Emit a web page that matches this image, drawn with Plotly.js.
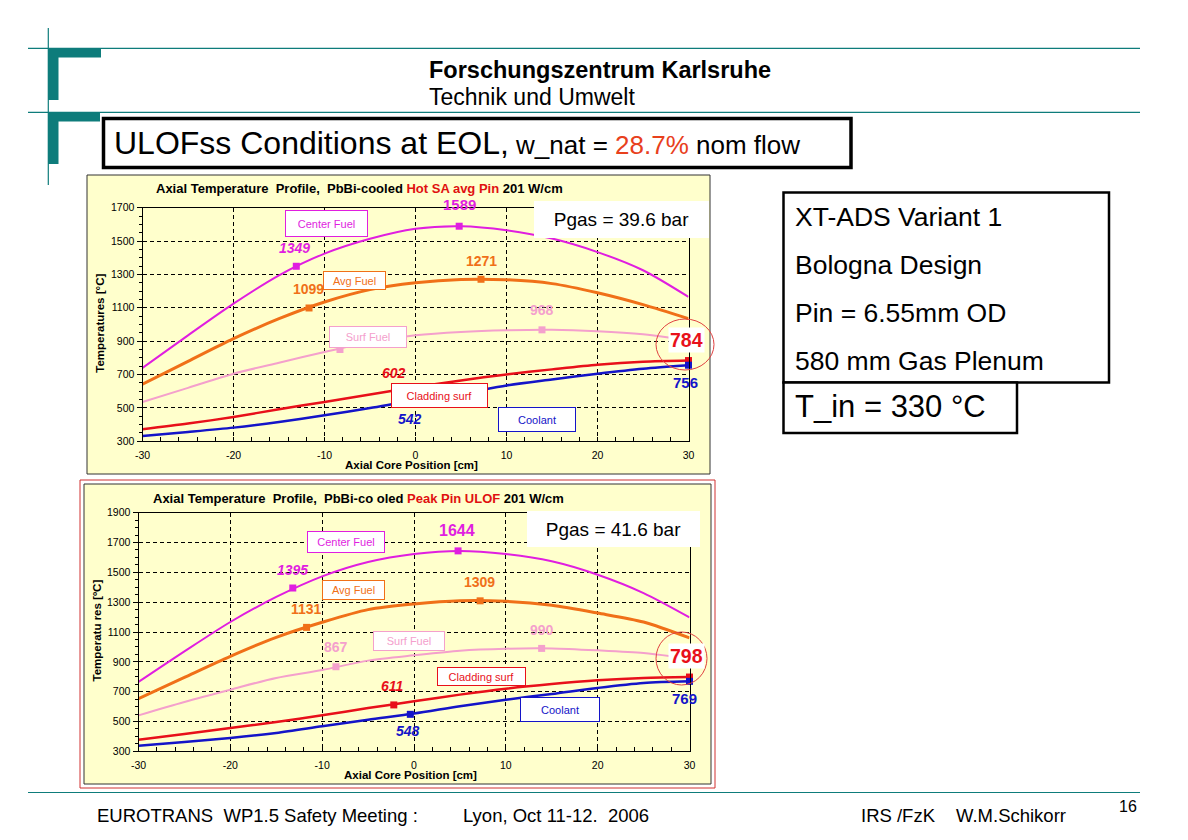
<!DOCTYPE html>
<html>
<head>
<meta charset="utf-8">
<script src="https://cdn.plot.ly/plotly-3.0.1.min.js"></script>
<style>html,body{margin:0;padding:0;background:#fff;}#chart{width:1188px;height:840px;}</style>
</head>
<body>
<div id="chart"></div>
<script>
// ---------------- DATA ----------------
const axialPos = [-30, -25, -20, -15, -10, -5, 0, 5, 10, 15, 20, 25, 30];
const surfPos  = [-30, -25, -20, -15, -10, -5, 0, 5, 10, 15, 20, 25, 28];
const seriesNames = ['Center Fuel', 'Avg Fuel', 'Surf Fuel', 'Cladding surf', 'Coolant'];
const xTickVals = [-30, -20, -10, 0, 10, 20, 30];
const xTickLabels = ['-30', '-20', '-10', '0', '10', '20', '30'];

// Top chart: Hot SA avg Pin
const hotCenter = [740, 935, 1125, 1295, 1425, 1514, 1574, 1589, 1565, 1515, 1434, 1325, 1165];
const hotAvg    = [642, 779, 915, 1035, 1135, 1209, 1250, 1270, 1268, 1245, 1190, 1119, 1035];
const hotSurf   = [536, 620, 705, 771, 835, 895, 935, 955, 965, 968, 959, 941, 921];
const hotClad   = [372, 406, 446, 492, 536, 580, 625, 665, 701, 731, 759, 777, 784];
const hotCool   = [332, 356, 382, 416, 456, 500, 546, 585, 635, 671, 705, 735, 756];
const hotMarkX  = [[-13.1, 4.8], [-11.7, 7.2], [-8.3, 13.9], [-2.3, 30], [-0.5, 30]];
const hotMarkY  = [[1349, 1589], [1099, 1271], [850, 968], [602, 784], [542, 756]];

// Bottom chart: Peak Pin ULOF
const peakCenter = [765, 970, 1167, 1335, 1473, 1569, 1623, 1644, 1623, 1574, 1484, 1361, 1198];
const peakAvg    = [653, 796, 937, 1064, 1165, 1250, 1288, 1310, 1306, 1279, 1227, 1167, 1060];
const peakSurf   = [541, 631, 713, 792, 845, 908, 944, 975, 988, 990, 977, 959, 937];
const peakClad   = [378, 416, 456, 497, 541, 590, 635, 680, 720, 751, 776, 792, 798];
const peakCool   = [338, 362, 389, 423, 468, 512, 553, 602, 646, 684, 725, 758, 769];
const peakMarkX  = [[-13.2, 4.8], [-11.7, 7.2], [-8.5, 13.9], [-2.2, 30], [-0.4, 30]];
const peakMarkY  = [[1395, 1644], [1131, 1309], [867, 990], [611, 798], [548, 769]];

// ---------------- STYLE ----------------
const W = 1188, H = 840;
const F = 'Liberation Sans, Arial, sans-serif';
const colors = ['#e01ee0', '#f07018', '#f4a0cc', '#e8101a', '#1414c8'];
const widths = [2, 3, 2, 2.5, 2.5];
const teal = '#0e7c7b';
const yellow = '#ffffcc';
const px = v => v / W;
const py = v => 1 - v / H;

const hotSeries = [hotCenter, hotAvg, hotSurf, hotClad, hotCool];
const peakSeries = [peakCenter, peakAvg, peakSurf, peakClad, peakCool];

const traces = [];
function addChart(series, markX, markY, xa, ya) {
  series.forEach((ys, i) => {
    traces.push({
      x: i === 2 ? surfPos : axialPos, y: ys, xaxis: xa, yaxis: ya,
      type: 'scatter', mode: 'lines', name: seriesNames[i],
      line: {color: colors[i], width: widths[i], shape: 'spline', smoothing: 0.8},
      hoverinfo: 'skip'
    });
  });
  markX.forEach((mx, i) => {
    traces.push({
      x: mx, y: markY[i], xaxis: xa, yaxis: ya, type: 'scatter', mode: 'markers',
      marker: {symbol: 'square', size: 7, color: colors[i]}, cliponaxis: false, hoverinfo: 'skip'
    });
  });
}
addChart(hotSeries, hotMarkX, hotMarkY, 'x', 'y');
addChart(peakSeries, peakMarkX, peakMarkY, 'x2', 'y2');

function xAxis(domain, anchor) {
  return {
    domain: domain, anchor: anchor, range: [-30, 30],
    tickmode: 'array', tickvals: xTickVals, ticktext: xTickLabels,
    showgrid: true, gridcolor: '#000', griddash: '4px,3px', gridwidth: 1,
    zeroline: false, showline: true, linecolor: '#000', linewidth: 1, mirror: true,
    ticks: 'inside', ticklen: 4, tickcolor: '#000', ticklabelstandoff: 4,
    tickfont: {family: F, size: 10.5, color: '#000'},
    minor: {tickmode: 'linear', tick0: 0, dtick: 2, ticks: 'inside', ticklen: 4, tickcolor: '#000', showgrid: false}
  };
}
function yAxis(domain, anchor, top) {
  return {
    domain: domain, anchor: anchor, range: [300, top], dtick: 200, tick0: 300,
    showgrid: true, gridcolor: '#000', griddash: '4px,3px', gridwidth: 1,
    zeroline: false, showline: true, linecolor: '#000', linewidth: 1, mirror: true,
    ticks: 'outside', ticklen: 5, tickcolor: '#000',
    tickfont: {family: F, size: 10.5, color: '#000'},
    minor: {dtick: 50, ticks: 'outside', ticklen: 3, tickcolor: '#000', showgrid: false}
  };
}

// ---------------- ANNOTATIONS ----------------
const ann = [];
function txt(x, y, text, size, color, extra) {
  ann.push(Object.assign({
    xref: 'paper', yref: 'paper', x: px(x), y: py(y), text: text, showarrow: false,
    font: {family: F, size: size, color: color || '#000'}, xanchor: 'center', yanchor: 'middle'
  }, extra || {}));
}
function box(x0, y0, x1, y1, text, color, size, textColor) {
  ann.push({
    xref: 'paper', yref: 'paper', x: px((x0 + x1) / 2), y: py((y0 + y1) / 2), text: text,
    showarrow: false, font: {family: F, size: size || 11, color: textColor || color},
    xanchor: 'center', yanchor: 'middle', bgcolor: '#fff', bordercolor: color,
    borderwidth: color === '#fff' ? 0 : 1, borderpad: 0, width: x1 - x0 - 2, height: y1 - y0 - 2
  });
}

// header
txt(427, 69.5, '<b>Forschungszentrum Karlsruhe</b>', 23.5, '#000', {xanchor: 'left'});
txt(427, 97, 'Technik und Umwelt', 23, '#000', {xanchor: 'left'});
txt(112, 143, 'ULOFss Conditions at EOL,<span style="font-size:26px"> w_nat = </span><span style="font-size:26px;color:#e8401c">28.7%</span><span style="font-size:26px"> nom flow</span>', 32, '#000', {xanchor: 'left'});

// right info boxes
txt(793, 216.7, 'XT-ADS Variant 1', 26.5, '#000', {xanchor: 'left'});
txt(793, 265, 'Bologna Design', 26.5, '#000', {xanchor: 'left'});
txt(793, 313, 'Pin = 6.55mm OD', 26.5, '#000', {xanchor: 'left'});
txt(793, 361, '580 mm Gas Plenum', 26.5, '#000', {xanchor: 'left'});
txt(793, 406, 'T_in = 330 °C', 31, '#000', {xanchor: 'left'});

// footer
txt(95, 815, 'EUROTRANS\u00a0 WP1.5 Safety Meeting :', 18.5, '#000', {xanchor: 'left'});
txt(461, 815, 'Lyon, Oct 11-12.\u00a0 2006', 18.5, '#000', {xanchor: 'left'});
txt(859, 815, 'IRS /FzK', 18.5, '#000', {xanchor: 'left'});
txt(954, 815, 'W.M.Schikorr', 18.5, '#000', {xanchor: 'left'});
txt(1128, 806, '16', 16, '#000');

// chart titles & axis titles
txt(154, 188.7, '<b>Axial Temperature\u00a0 Profile,\u00a0 PbBi-cooled <span style="color:#e01010">Hot SA avg Pin</span> 201 W/cm</b>', 13, '#000', {xanchor: 'left'});
txt(151, 498.7, '<b>Axial Temperature\u00a0 Profile,\u00a0 PbBi-co oled <span style="color:#e01010">Peak Pin ULOF</span> 201 W/cm</b>', 13, '#000', {xanchor: 'left'});
txt(412, 465, '<b>Axial Core Position [cm]</b>', 11.5, '#000');
txt(410, 774.7, '<b>Axial Core Position [cm]</b>', 11.5, '#000');
txt(100, 323.7, '<b>Temperatures [°C]</b>', 11.5, '#000', {textangle: -90});
txt(96.5, 631, '<b>Temperatu res [ºC]</b>', 11.5, '#000', {textangle: -90});

// Pgas boxes
box(533, 200, 710, 239, 'Pgas = 39.6 bar', '#fff', 19, '#000');
box(526, 510, 701, 548, 'Pgas = 41.6 bar', '#fff', 19, '#000');

// series label boxes (top)
box(285, 210, 368, 237, seriesNames[0], colors[0]);
box(323, 271, 386, 290, seriesNames[1], colors[1]);
box(329, 326, 407, 348, seriesNames[2], colors[2]);
box(391, 383, 488, 408, seriesNames[3], colors[3]);
box(498, 407, 576, 432, seriesNames[4], colors[4]);
// series label boxes (bottom)
box(307, 531, 385, 553, seriesNames[0], colors[0]);
box(322, 580, 385, 600, seriesNames[1], colors[1]);
box(373, 631, 445, 651, seriesNames[2], colors[2]);
box(437, 667, 526, 686, seriesNames[3], colors[3]);
box(520, 697, 600, 722, seriesNames[4], colors[4]);

// value labels (top)
const B = s => '<b>' + s + '</b>', BI = s => '<b><i>' + s + '</i></b>';
txt(294.6, 248, BI(hotMarkY[0][0]), 14, colors[0]);
txt(459.7, 204.3, B(hotMarkY[0][1]), 15, colors[0]);
txt(308, 288.7, B(hotMarkY[1][0]), 14, colors[1]);
txt(481.4, 261, B(hotMarkY[1][1]), 14, colors[1]);
txt(542, 310, B(hotMarkY[2][1]), 14, colors[2]);
txt(394, 373, BI(hotMarkY[3][0]), 14, colors[3]);
txt(410, 418.7, BI(hotMarkY[4][0]), 14, colors[4]);
txt(685, 382.7, B(hotMarkY[4][1]), 15, colors[4]);
txt(686.5, 340, B(hotMarkY[3][1]), 19.5, colors[3], {bgcolor: '#fff'});
// value labels (bottom)
txt(292.7, 569.7, BI(peakMarkY[0][0]), 14, colors[0]);
txt(457.3, 530.3, B(peakMarkY[0][1]), 16, colors[0]);
txt(306.3, 608.7, B(peakMarkY[1][0]), 14, colors[1]);
txt(479, 582, B(peakMarkY[1][1]), 14, colors[1]);
txt(336.3, 647.3, B(peakMarkY[2][0]), 14, colors[2]);
txt(541.6, 629.7, B(peakMarkY[2][1]), 14, colors[2]);
txt(392.7, 686.3, BI(peakMarkY[3][0]), 14, colors[3]);
txt(408.3, 731.3, BI(peakMarkY[4][0]), 14, colors[4]);
txt(684.7, 698.7, B(peakMarkY[4][1]), 15, colors[4]);
txt(686.8, 656.3, B(peakMarkY[3][1]), 19.5, colors[3], {bgcolor: '#fff'});

// ---------------- SHAPES ----------------
const shapes = [];
function rect(x0, y0, x1, y1, fill, lineColor, lw, layer) {
  shapes.push({type: 'rect', xref: 'paper', yref: 'paper', x0: px(x0), x1: px(x1), y0: py(y1), y1: py(y0),
    fillcolor: fill, line: {color: lineColor, width: lw}, layer: layer || 'above'});
}
function line(x0, y0, x1, y1, color, lw) {
  shapes.push({type: 'line', xref: 'paper', yref: 'paper', x0: px(x0), x1: px(x1), y0: py(y0), y1: py(y1),
    line: {color: color, width: lw}});
}
rect(87, 175, 710, 474, yellow, '#333', 1, 'below');
rect(80, 480, 715, 788, 'rgba(0,0,0,0)', '#d03030', 1, 'below');
rect(84, 484, 711, 784, yellow, '#333', 1, 'below');
line(28, 48.3, 1140, 48.3, teal, 1.2);
line(28, 112.3, 1140, 112.3, teal, 1.2);
line(48.3, 28, 48.3, 185, teal, 1.2);
line(28, 792.5, 1140, 792.5, teal, 1.2);
rect(48, 48, 58.5, 100, teal, teal, 0);
rect(48, 48, 101, 57.5, teal, teal, 0);
rect(48, 112, 58.5, 164, teal, teal, 0);
rect(48, 112, 100, 121.5, teal, teal, 0);
rect(103.5, 118.5, 851, 167.5, '#fff', '#000', 3.5, 'below');
rect(783.5, 192.5, 1109, 382.5, '#fff', '#000', 2.5, 'below');
rect(783.5, 382.5, 1017, 433, '#fff', '#000', 2.5, 'below');
shapes.push({type: 'circle', xref: 'paper', yref: 'paper', x0: px(656), x1: px(714), y0: py(370), y1: py(319),
  line: {color: '#e04040', width: 1}});
shapes.push({type: 'circle', xref: 'paper', yref: 'paper', x0: px(656), x1: px(707), y0: py(685), y1: py(632),
  line: {color: '#e04040', width: 1}});

const layout = {
  width: W, height: H, margin: {l: 0, r: 0, t: 0, b: 0},
  paper_bgcolor: '#fff', plot_bgcolor: '#fff', showlegend: false,
  xaxis: xAxis([px(142.5), px(688.5)], 'y'),
  yaxis: yAxis([py(441.3), py(207.7)], 'x', 1700),
  xaxis2: xAxis([px(138.5), px(689.5)], 'y2'),
  yaxis2: yAxis([py(751.3), py(512.7)], 'x2', 1900),
  annotations: ann, shapes: shapes
};
Plotly.newPlot('chart', traces, layout, {displayModeBar: false, staticPlot: true});
</script>
</body>
</html>
